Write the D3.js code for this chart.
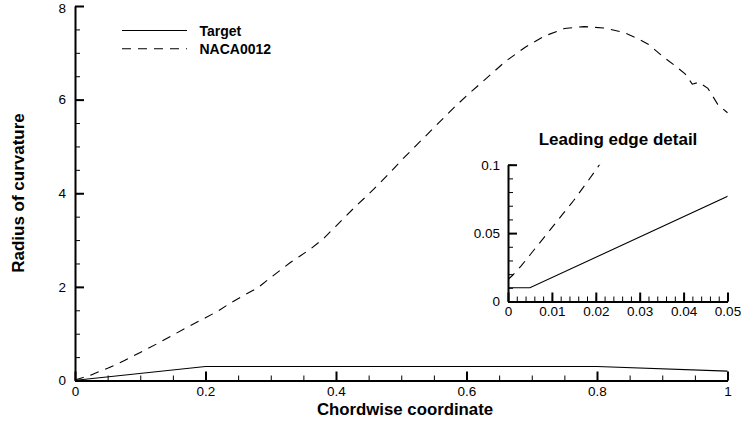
<!DOCTYPE html>
<html><head><meta charset="utf-8">
<script src="https://cdn.jsdelivr.net/npm/d3@7"></script>
<style>
html,body{margin:0;padding:0;background:#fff;}
svg{display:block;font-family:"Liberation Sans",Arial,sans-serif;}
</style></head>
<body><svg id="c" width="741" height="421"></svg>
<script>
// ---- data ----
const targetX = [0, 0.005, 0.2, 0.8, 1];
const targetY = [0.01, 0.01, 0.30, 0.30, 0.20];
const nacaX = [0, 0.001, 0.003, 0.005, 0.0075, 0.01, 0.0125, 0.015, 0.0175, 0.02, 0.025, 0.03, 0.05, 0.075, 0.1, 0.125, 0.15, 0.175, 0.2, 0.22, 0.24, 0.26, 0.28, 0.3, 0.33, 0.345, 0.36, 0.38, 0.4, 0.43, 0.45, 0.48, 0.5, 0.53, 0.55, 0.58, 0.6, 0.63, 0.66, 0.69, 0.72, 0.75, 0.78, 0.81, 0.84, 0.86, 0.88, 0.9, 0.92, 0.935, 0.946, 0.956, 0.97, 0.985, 1];
const nacaY = [0.016, 0.019, 0.026, 0.034, 0.044, 0.054, 0.064, 0.074, 0.085, 0.096, 0.12, 0.15, 0.26, 0.42, 0.60, 0.78, 0.97, 1.16, 1.34, 1.49, 1.67, 1.83, 1.98, 2.2, 2.52, 2.66, 2.8, 3.02, 3.3, 3.72, 3.98, 4.4, 4.7, 5.12, 5.4, 5.82, 6.08, 6.45, 6.82, 7.12, 7.36, 7.52, 7.56, 7.53, 7.44, 7.32, 7.17, 6.93, 6.72, 6.55, 6.33, 6.37, 6.24, 5.9, 5.72];
const xTicks = [0, 0.2, 0.4, 0.6, 0.8, 1];
const yTicks = [0, 2, 4, 6, 8];
const insetXTicks = [0, 0.01, 0.02, 0.03, 0.04, 0.05];
const insetYTicks = [0, 0.05, 0.1];
const seriesNames = ["Target", "NACA0012"];

const svg = d3.select("#c");
const fmt = d => String(+d.toFixed(4));

function drawAxes(g, x, y, xt, yt, xMinorStep, yMinorStep, xPad, yPad) {
  const [x0, x1] = x.domain(), [y0, y1] = y.domain();
  const xMinor = d3.range(Math.round((x1 - x0) / xMinorStep) + 1).map(i => x0 + i * xMinorStep);
  const yMinor = d3.range(Math.round((y1 - y0) / yMinorStep) + 1).map(i => y0 + i * yMinorStep);
  const yb = y(y0), xl = x(x0);
  g.append("g").attr("transform", `translate(0,${yb})`)
    .call(d3.axisBottom(x).tickValues(xMinor).tickSize(-5).tickSizeOuter(0).tickFormat(""))
    .call(a => a.select(".domain").remove())
    .call(a => a.selectAll("line").attr("stroke-width", 1));
  g.append("g").attr("transform", `translate(${xl},0)`)
    .call(d3.axisLeft(y).tickValues(yMinor).tickSize(-5).tickSizeOuter(0).tickFormat(""))
    .call(a => a.select(".domain").remove())
    .call(a => a.selectAll("line").attr("stroke-width", 1));
  g.append("g").attr("transform", `translate(0,${yb})`)
    .call(d3.axisBottom(x).tickValues(xt).tickSize(-9).tickSizeOuter(0).tickPadding(xPad).tickFormat(fmt))
    .call(a => a.select(".domain").attr("stroke-width", 2))
    .call(a => a.selectAll("line").attr("stroke-width", 2))
    .call(a => a.selectAll("text").attr("font-size", 13.5).attr("fill", "#000").attr("font-family", "Liberation Sans, Arial, sans-serif"));
  g.append("g").attr("transform", `translate(${xl},0)`)
    .call(d3.axisLeft(y).tickValues(yt).tickSize(-9).tickSizeOuter(0).tickPadding(yPad).tickFormat(fmt))
    .call(a => a.select(".domain").attr("stroke-width", 2))
    .call(a => a.selectAll("line").attr("stroke-width", 2))
    .call(a => a.selectAll("text").attr("font-size", 13.5).attr("fill", "#000").attr("font-family", "Liberation Sans, Arial, sans-serif")
      .attr("transform", d => d === y1 && y(y1) < 10 ? "translate(0,2)" : null));
}

// ---- main plot ----
const x = d3.scaleLinear().domain([0, 1]).range([75, 727.5]);
const y = d3.scaleLinear().domain([0, 8]).range([380.5, 6]);
const main = svg.append("g");
const tgt = targetX.map((d, i) => [d, targetY[i]]);
const naca = nacaX.map((d, i) => [d, nacaY[i]]);
const line = d3.line().x(d => x(d[0])).y(d => y(d[1]));
main.append("path").attr("d", line(tgt)).attr("fill", "none").attr("stroke", "#000").attr("stroke-width", 1.1);
main.append("path").attr("d", line(naca)).attr("fill", "none").attr("stroke", "#000").attr("stroke-width", 1.1).attr("stroke-dasharray", "9,7");
drawAxes(main, x, y, xTicks, yTicks, 0.05, 0.5, 5.5, 9);

main.append("text").attr("x", 405).attr("y", 414.5).attr("text-anchor", "middle")
  .attr("font-size", 16.8).attr("font-weight", "bold").text("Chordwise coordinate");
main.append("text").attr("transform", "translate(24,193) rotate(-90)").attr("text-anchor", "middle")
  .attr("font-size", 17).attr("font-weight", "bold").text("Radius of curvature");

// legend
const leg = svg.append("g");
seriesNames.forEach((n, i) => {
  const yy = 30.5 + i * 18.3;
  leg.append("line").attr("x1", 122).attr("x2", 187).attr("y1", yy).attr("y2", yy)
    .attr("stroke", "#000").attr("stroke-width", 1.1).attr("stroke-dasharray", i ? "9,7" : null);
  leg.append("text").attr("x", 199.5).attr("y", yy + 5).attr("font-size", 14).attr("font-weight", "bold").text(n);
});

// ---- inset ----
const ix = d3.scaleLinear().domain([0, 0.05]).range([508, 727.5]);
const iy = d3.scaleLinear().domain([0, 0.1]).range([301.5, 164.7]);
const inset = svg.append("g");
inset.append("clipPath").attr("id", "ic").append("rect")
  .attr("x", ix(0)).attr("y", iy(0.1)).attr("width", ix(0.05) - ix(0)).attr("height", iy(0) - iy(0.1));
const iline = d3.line().x(d => ix(d[0])).y(d => iy(d[1]));
const ip = inset.append("g").attr("clip-path", "url(#ic)");
ip.append("path").attr("d", iline(tgt)).attr("fill", "none").attr("stroke", "#000").attr("stroke-width", 1.1);
ip.append("path").attr("d", iline(naca.filter(d => d[0] <= 0.03))).attr("fill", "none").attr("stroke", "#000").attr("stroke-width", 1.1).attr("stroke-dasharray", "9,7");
drawAxes(inset, ix, iy, insetXTicks, insetYTicks, 0.002, 0.01, 4.5, 8);
inset.append("text").attr("x", 618).attr("y", 145).attr("text-anchor", "middle")
  .attr("font-size", 17).attr("font-weight", "bold").text("Leading edge detail");
</script></body></html>
